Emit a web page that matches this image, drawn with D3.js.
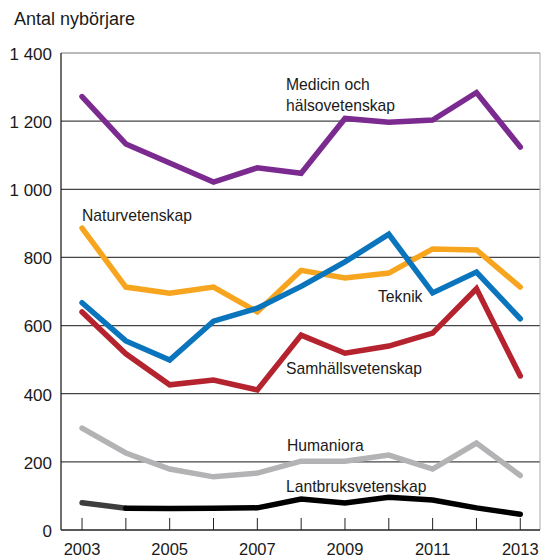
<!DOCTYPE html>
<html>
<head>
<meta charset="utf-8">
<script src="https://cdn.jsdelivr.net/npm/d3@7"></script>
<style>
  body { margin: 0; background: #fff; }
  svg text { font-family: "Liberation Sans", Arial, Helvetica, sans-serif; fill: #1a1a1a; }
</style>
</head>
<body>
<svg id="chart" width="541" height="557"></svg>
<script>
"use strict";

// years and series (Antal nybörjare)
var years = [2003, 2004, 2005, 2006, 2007, 2008, 2009, 2010, 2011, 2012, 2013];
var medicin = [1272, 1133, 1077, 1021, 1063, 1047, 1208, 1197, 1203, 1284, 1124];
var naturvetenskap = [886, 713, 695, 713, 640, 762, 740, 754, 825, 822, 713];
var teknik = [667, 555, 499, 613, 651, 715, 787, 868, 696, 757, 620];
var samhall = [640, 517, 426, 440, 411, 572, 519, 540, 578, 708, 452];
var humaniora = [299, 226, 179, 156, 167, 202, 202, 220, 179, 255, 160];
var lantbruk = [80, 64, 63, 64, 65, 91, 79, 96, 88, 65, 46];
var yTicks = [0, 200, 400, 600, 800, 1000, 1200, 1400];
var xTickLabels = [2003, 2005, 2007, 2009, 2011, 2013];

var margin = { top: 53, right: 1, bottom: 27, left: 61 };
var width = 541 - margin.left - margin.right;
var height = 557 - margin.top - margin.bottom;

var svg = d3.select("#chart");
var g = svg.append("g").attr("transform", "translate(" + margin.left + "," + margin.top + ")");

var x = d3.scaleLinear().domain([2002.52, 2013.45]).range([0, width]);
var y = d3.scaleLinear().domain([0, 1400]).range([height, 0]);

var fmt = function (d) { return d >= 1000 ? d3.format(",")(d).replace(",", " ") : d; };

// gridlines
g.selectAll("line.grid").data(yTicks.filter(function (d) { return d > 0; }))
  .enter().append("line")
  .attr("class", "grid")
  .attr("x1", 0).attr("x2", width)
  .attr("y1", function (d) { return y(d); })
  .attr("y2", function (d) { return y(d); })
  .attr("stroke", function (d) { return d === 1400 ? "#777" : "#444"; })
  .attr("stroke-width", 1.2);

// right border
g.append("line").attr("x1", width).attr("x2", width).attr("y1", 0).attr("y2", height)
  .attr("stroke", "#aaa").attr("stroke-width", 1);

// y axis labels
g.selectAll("text.ylab").data(yTicks).enter().append("text")
  .attr("class", "ylab")
  .attr("x", -9)
  .attr("y", function (d) { return y(d); })
  .attr("dy", "0.4em")
  .attr("text-anchor", "end")
  .attr("font-size", 17)
  .text(fmt);

// x ticks
g.selectAll("line.xtick").data(years).enter().append("line")
  .attr("class", "xtick")
  .attr("x1", function (d) { return x(d); })
  .attr("x2", function (d) { return x(d); })
  .attr("y1", height).attr("y2", height - 12)
  .attr("stroke", "#222").attr("stroke-width", 1);

g.selectAll("text.xlab").data(xTickLabels).enter().append("text")
  .attr("class", "xlab")
  .attr("x", function (d) { return x(d); })
  .attr("y", height + 25)
  .attr("text-anchor", "middle")
  .attr("font-size", 16.5)
  .text(function (d) { return d; });

// axes lines
g.append("line").attr("x1", 0).attr("x2", 0).attr("y1", 0).attr("y2", height)
  .attr("stroke", "#222").attr("stroke-width", 1.3);
g.append("line").attr("x1", 0).attr("x2", width).attr("y1", height).attr("y2", height)
  .attr("stroke", "#222").attr("stroke-width", 1.3);

var line = d3.line()
  .x(function (d) { return x(d.year); })
  .y(function (d) { return y(d.value); });

function pairs(values) {
  return years.map(function (yr, i) { return { year: yr, value: values[i] }; });
}

var series = [
  { values: humaniora, color: "#b3b3b5" },
  { values: lantbruk, start: 1, color: "#000000" },
  { values: samhall, color: "#b5232e" },
  { values: naturvetenskap, color: "#f7a51f" },
  { values: teknik, color: "#0a74bd" },
  { values: medicin, color: "#7b2a90" }
];

// first Lantbruk segment drawn in dark grey
g.append("path")
  .datum(pairs(lantbruk).slice(0, 2))
  .attr("d", line)
  .attr("fill", "none")
  .attr("stroke", "#3d3d3d")
  .attr("stroke-width", 5.5)
  .attr("stroke-linecap", "round");

series.forEach(function (s) {
  var data = pairs(s.values).slice(s.start || 0);
  g.append("path")
    .datum(data)
    .attr("d", line)
    .attr("fill", "none")
    .attr("stroke", s.color)
    .attr("stroke-width", 5.5)
    .attr("stroke-linejoin", "miter")
    .attr("stroke-linecap", "round");
});

// series labels
var labels = [
  { lines: ["Medicin och", "hälsovetenskap"], x: 286, y: 90 },
  { lines: ["Naturvetenskap"], x: 82, y: 221 },
  { lines: ["Teknik"], x: 378, y: 302 },
  { lines: ["Samhällsvetenskap"], x: 286, y: 374 },
  { lines: ["Humaniora"], x: 287, y: 451 },
  { lines: ["Lantbruksvetenskap"], x: 286, y: 492 }
];
labels.forEach(function (l) {
  var t = svg.append("text").attr("font-size", 15.7).attr("x", l.x).attr("y", l.y);
  l.lines.forEach(function (s, i) {
    t.append("tspan").attr("x", l.x).attr("dy", i === 0 ? 0 : 21).text(s);
  });
});

svg.append("text")
  .attr("x", 14).attr("y", 25)
  .attr("font-size", 18)
  .text("Antal nybörjare");
</script>
</body>
</html>
